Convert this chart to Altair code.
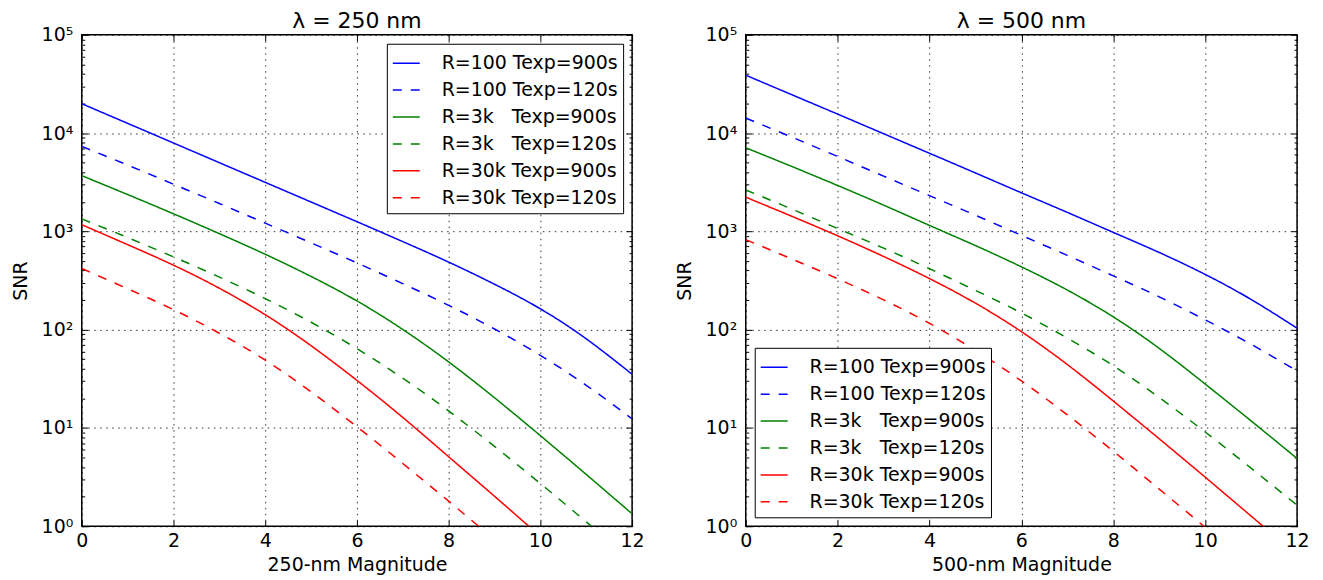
import altair as alt
import pandas as pd

# ---------------- data ----------------
mags = [0, 1, 2, 3, 4, 5, 6, 7, 8, 9, 10, 11, 12]

series_names = [
    "R=100 Texp=900s",
    "R=100 Texp=120s",
    "R=3k\u00a0\u00a0\u00a0Texp=900s",
    "R=3k\u00a0\u00a0\u00a0Texp=120s",
    "R=30k Texp=900s",
    "R=30k Texp=120s",
]
series_colors = ["#0000ff", "#0000ff", "#008000", "#008000", "#ff0000", "#ff0000"]
series_dashes = [[1, 0], [9, 9], [1, 0], [9, 9], [1, 0], [9, 9]]

# lambda = 250 nm
snr250_r100_900 = [19900, 12560, 7930, 5000, 3155, 1990, 1255, 787, 487, 290, 163, 80.7, 35.2]
snr250_r100_120 = [7330, 4730, 3020, 1920, 1213, 764, 478, 294, 177, 101.6, 54.8, 27.2, 12.4]
snr250_r3k_900 = [3690, 2370, 1510, 948, 585, 348, 196, 100.5, 47, 20.3, 8.36, 3.37, 1.34]
snr250_r3k_120 = [1340, 865, 550, 343, 207, 119, 64.1, 32.1, 14.9, 6.49, 2.72, 1.11, 0.45]
snr250_r30k_900 = [1170, 733, 453, 264, 142, 68.7, 30.5, 12.8, 5.1, 2.02, 0.79, 0.31, 0.12]
snr250_r30k_120 = [419, 261, 160, 92, 49, 23.3, 10.3, 4.35, 1.8, 0.73, 0.29, 0.116, 0.046]

# lambda = 500 nm
snr500_r100_900 = [38800, 24600, 15600, 9860, 6230, 3930, 2470, 1560, 977, 610, 365, 203, 103.5]
snr500_r100_120 = [14200, 9110, 5780, 3650, 2310, 1460, 912, 570, 353, 216, 126, 71, 38]
snr500_r3k_900 = [7100, 4580, 2930, 1850, 1150, 717, 436, 253, 135, 64.5, 28, 11.8, 4.9]
snr500_r3k_120 = [2640, 1690, 1070, 676, 417, 251, 148, 82, 43, 20.4, 9.1, 3.9, 1.64]
snr500_r30k_900 = [2230, 1426, 902, 556, 331, 186, 95.5, 44.2, 18.8, 7.76, 3.16, 1.27, 0.51]
snr500_r30k_120 = [824, 525, 330, 201, 116, 61.5, 30.1, 13.6, 5.8, 2.39, 0.975, 0.39, 0.156]

x_major = [0, 2, 4, 6, 8, 10, 12]
y_major = [1, 10, 100, 1000, 10000, 100000]
y_minor = [m * d for d in [1, 10, 100, 1000, 10000] for m in range(2, 10)]

FONT = "DejaVu Sans"
FS = 19


def make_df(arrays):
    rows = []
    for name, vals in zip(series_names, arrays):
        for m, v in zip(mags, vals):
            rows.append({"mag": m, "snr": v, "series": name})
    return pd.DataFrame(rows)


df250 = make_df([snr250_r100_900, snr250_r100_120, snr250_r3k_900,
                 snr250_r3k_120, snr250_r30k_900, snr250_r30k_120])
df500 = make_df([snr500_r100_900, snr500_r100_120, snr500_r3k_900,
                 snr500_r3k_120, snr500_r30k_900, snr500_r30k_120])

ylabel_expr = ("datum.value == 1 ? '10\u2070' : datum.value == 10 ? '10\u00b9' : "
               "datum.value == 100 ? '10\u00b2' : datum.value == 1000 ? '10\u00b3' : "
               "datum.value == 10000 ? '10\u2074' : '10\u2075'")


def xscale():
    return alt.Scale(domain=[0, 12], nice=False, zero=False)


def yscale():
    return alt.Scale(type="log", domain=[1, 100000], nice=False)


def panel(df, title, xtitle, legend_orient, width):
    base = alt.Chart(df)
    leg = alt.Legend(title=None, orient=legend_orient)
    lines = base.mark_line(clip=True, strokeWidth=1.5, interpolate="natural").encode(
        x=alt.X("mag:Q", scale=xscale(),
                axis=alt.Axis(orient="bottom", values=x_major, format="d", title=xtitle,
                              tickSize=6, offset=-6, domain=False, grid=True,
                              gridDash=[1.5, 4.5], gridColor="black", gridWidth=0.8,
                              labelPadding=5, titlePadding=5, minExtent=0,
                              labelFlush=False)),
        y=alt.Y("snr:Q", scale=yscale(),
                axis=alt.Axis(orient="left", values=y_major, labelExpr=ylabel_expr, title="SNR",
                              tickSize=6, offset=-6, domain=False, grid=True,
                              gridDash=[1.5, 4.5], gridColor="black", gridWidth=0.8,
                              labelPadding=9, titlePadding=11, labelFlush=False)),
        color=alt.Color("series:N", scale=alt.Scale(domain=series_names, range=series_colors),
                        legend=leg),
        strokeDash=alt.StrokeDash("series:N",
                                  scale=alt.Scale(domain=series_names, range=series_dashes),
                                  legend=leg),
    )
    top_minor_left = base.mark_line(clip=True, strokeOpacity=0).encode(
        x=alt.X("mag:Q", scale=xscale(),
                axis=alt.Axis(orient="top", values=x_major, labels=False, title=None,
                              tickSize=6, offset=-6, domain=False, grid=False,
                              minExtent=0, maxExtent=0)),
        y=alt.Y("snr:Q", scale=yscale(),
                axis=alt.Axis(orient="left", values=y_minor, labels=False, title=None,
                              tickSize=3, offset=-3, domain=False, grid=False,
                              minExtent=0, maxExtent=0)),
    )
    right_major = base.mark_line(clip=True, strokeOpacity=0).encode(
        x=alt.X("mag:Q", scale=xscale(), axis=None),
        y=alt.Y("snr:Q", scale=yscale(),
                axis=alt.Axis(orient="right", values=y_major, labels=False, title=None,
                              tickSize=6, offset=-6, domain=False, grid=False,
                              minExtent=0, maxExtent=0)),
    )
    right_minor = base.mark_line(clip=True, strokeOpacity=0).encode(
        x=alt.X("mag:Q", scale=xscale(), axis=None),
        y=alt.Y("snr:Q", scale=yscale(),
                axis=alt.Axis(orient="right", values=y_minor, labels=False, title=None,
                              tickSize=3, offset=-3, domain=False, grid=False,
                              minExtent=0, maxExtent=0)),
    )
    return alt.layer(lines, top_minor_left, right_major, right_minor).resolve_axis(
        x="independent", y="independent"
    ).properties(
        width=width, height=493,
        title=alt.TitleParams(title, fontSize=22, fontWeight="normal", font=FONT, offset=-7),
    )


left = panel(df250, "\u03bb = 250 nm", "250-nm Magnitude", "top-right", 552)
right = panel(df500, "\u03bb = 500 nm", "500-nm Magnitude", "bottom-left", 553)

chart = alt.hconcat(left, right, spacing=29).resolve_scale(
    color="independent", strokeDash="independent"
).resolve_legend(
    color="independent", strokeDash="independent"
).properties(
    padding={"left": 2, "top": 0, "right": 5, "bottom": 0},
    background="white",
).configure_view(
    stroke="black", strokeWidth=1.5
).configure_axis(
    labelFont=FONT, titleFont=FONT, labelFontSize=FS, titleFontSize=FS,
    titleFontWeight="normal", labelColor="black", titleColor="black",
    tickColor="black", tickWidth=1,
).configure_legend(
    labelFont=FONT, labelFontSize=FS, labelColor="black",
    symbolType="stroke", symbolSize=729, symbolStrokeWidth=1.5,
    padding=5, rowPadding=2, labelOffset=21, offset=9,
    fillColor="white", strokeColor="black", labelLimit=400,
)

chart.save("out.html", embed_options={"renderer": "svg", "actions": False})
